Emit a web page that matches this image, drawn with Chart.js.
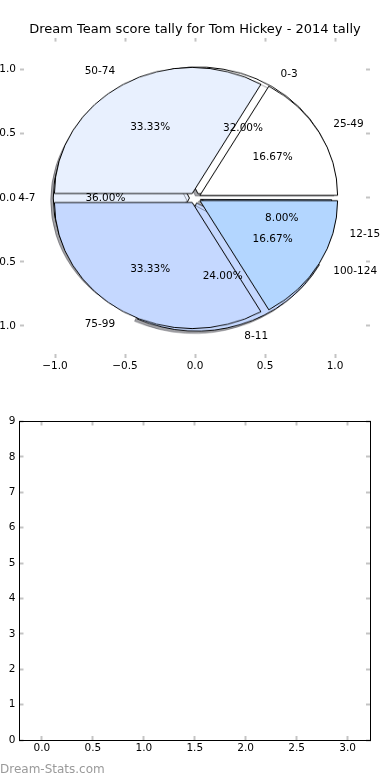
<!DOCTYPE html>
<html>
<head>
<meta charset="utf-8">
<script src="https://cdn.jsdelivr.net/npm/chart.js@4.4.1/dist/chart.umd.min.js"></script>
<style>
  body { margin: 0; background: #fff; }
  #wrap { position: relative; width: 390px; height: 780px; overflow: hidden; }
  canvas { position: absolute; }
  #pieBase, #pieTop { left: 35px; top: 37.8px; transform: scaleY(0.9154); }
  #axesTop { left: 0; top: 0; }
  #axesBottom { left: 0; top: 390px; }
  #mark { position: absolute; left: 0; top: 762px; font: 12px "DejaVu Sans"; line-height: 15px; color: #9a9a9a; }
</style>
</head>
<body>
<div id="wrap">
  <canvas id="pieBase" width="320" height="320"></canvas>
  <canvas id="pieTop" width="320" height="320"></canvas>
  <canvas id="axesTop" width="390" height="390"></canvas>
  <canvas id="axesBottom" width="390" height="390"></canvas>
  <div id="mark">Dream-Stats.com</div>
</div>
<script>
var chartTitle = 'Dream Team score tally for Tom Hickey - 2014 tally';

// first pie: tally ranges
var tallyLabels = ['0-3', '4-7', '8-11', '12-15'];
var tallyPcts = [32, 36, 24, 8];

// second pie: score ranges
var scoreLabels = ['25-49', '50-74', '75-99', '100-124'];
var scorePcts = [16.67, 33.33, 33.33, 16.67];

var sliceColors = ['#ffffff', '#e8f0fe', '#c5d8ff', '#b3d6ff'];
var explode = 0.04;

var pieTicks = [-1, -0.5, 0, 0.5, 1];
var barTicksX = [0, 0.5, 1, 1.5, 2, 2.5, 3];
var barTicksY = [0, 1, 2, 3, 4, 5, 6, 7, 8, 9];

var R = 140; // px for 1.0 on the x axis of the pie axes
var tickFont = { family: 'DejaVu Sans', size: 10.5 };

// chart.js moves an arc by offset/4 and also grows its radius, undo the growth
var explodeFix = {
    id: 'explodeFix',
    afterDatasetsUpdate: function(chart){
        chart.getDatasetMeta(0).data.forEach(function(arc){
            var fix = 1 - Math.sin(Math.min(Math.PI, arc.circumference));
            arc.outerRadius = R - arc.options.offset * fix;
        });
    }
};

var pieShadow = {
    id: 'pieShadow',
    beforeDatasetsDraw: function(chart){
        var ctx = chart.ctx;
        ctx.save();
        ctx.shadowColor = 'rgba(50,50,60,0.45)';
        ctx.shadowOffsetX = -0.018 * R;
        ctx.shadowOffsetY = 0.018 * R;
    },
    afterDatasetsDraw: function(chart){
        chart.ctx.restore();
    }
};

function makePie(id, labels, values, withShadow){
    var plugins = [explodeFix];
    if(withShadow){
        plugins.push(pieShadow);
    }
    // reversed + rotation 90 so slices run counter clockwise from 3 o'clock
    return new Chart(document.getElementById(id), {
        type: 'pie',
        data: {
            labels: labels.slice().reverse(),
            datasets: [{
                data: values.slice().reverse(),
                backgroundColor: sliceColors.slice().reverse(),
                borderColor: '#000',
                borderWidth: 1,
                offset: explode * R * 4,
                radius: R
            }]
        },
        options: {
            responsive: false,
            animation: false,
            events: [],
            rotation: 90,
            layout: { padding: 0 },
            plugins: { legend: { display: false }, tooltip: { enabled: false } }
        },
        plugins: plugins
    });
}

makePie('pieBase', tallyLabels, tallyPcts, true);
makePie('pieTop', scoreLabels, scorePcts, false);

function minusText(v, digits){
    return (v < 0 ? '\u2212' : '') + Math.abs(v).toFixed(digits);
}

// size = px the axis box takes outside the plot area (labels are clipped to it)
function tickAxis(position, min, max, list, digits, size, labels, border){
    var horizontal = (position === 'top' || position === 'bottom');
    return {
        type: 'linear',
        position: position,
        min: min,
        max: max,
        afterBuildTicks: function(scale){
            scale.ticks = list.map(function(v){ return { value: v }; });
        },
        afterFit: function(scale){
            if(horizontal){ scale.height = size; } else { scale.width = size; }
        },
        ticks: {
            display: labels,
            autoSkip: false,
            maxRotation: 0,
            font: tickFont,
            color: '#000',
            padding: horizontal ? 6 : 8,
            callback: function(v){ return minusText(v, digits); }
        },
        grid: {
            drawOnChartArea: false,
            drawTicks: true,
            tickLength: -4,
            tickColor: '#c4c4c4',
            tickWidth: 2
        },
        border: { display: border, color: '#000', width: 1 }
    };
}

var pieLabels = {
    id: 'pieLabels',
    afterDraw: function(chart){
        var ctx = chart.ctx;
        var xs = chart.scales.x;
        var ys = chart.scales.y;
        ctx.save();
        ctx.font = '10.5px "DejaVu Sans"';
        ctx.fillStyle = '#000';
        ctx.textBaseline = 'middle';
        [[tallyLabels, tallyPcts], [scoreLabels, scorePcts]].forEach(function(pie){
            var total = pie[1].reduce(function(a, b){ return a + b; }, 0);
            var acc = 0;
            pie[1].forEach(function(v, i){
                var mid = (acc + v / 2) / total * 2 * Math.PI;
                acc += v;
                var c = Math.cos(mid), s = Math.sin(mid);
                ctx.textAlign = c > 0 ? 'left' : 'right';
                ctx.fillText(pie[0][i], xs.getPixelForValue((1.1 + explode) * c), ys.getPixelForValue((1.1 + explode) * s));
                ctx.textAlign = 'center';
                ctx.fillText(v.toFixed(2) + '%', xs.getPixelForValue((0.6 + explode) * c), ys.getPixelForValue((0.6 + explode) * s));
            });
        });
        ctx.restore();
    }
};

new Chart(document.getElementById('axesTop'), {
    type: 'scatter',
    data: { datasets: [] },
    options: {
        responsive: false,
        animation: false,
        events: [],
        layout: { padding: 0 },
        plugins: {
            legend: { display: false },
            tooltip: { enabled: false },
            title: {
                display: true,
                text: chartTitle,
                color: '#000',
                font: { family: 'DejaVu Sans', size: 13, weight: 'normal', lineHeight: 1.2 },
                padding: { top: 22, bottom: 0 }
            }
        },
        scales: {
            x: tickAxis('bottom', -1.25, 1.25, pieTicks, 1, 32, true, false),
            x2: tickAxis('top', -1.25, 1.25, pieTicks, 1, 0, false, false),
            y: tickAxis('left', -1.25, 1.25, pieTicks, 1, 20, true, false),
            y2: tickAxis('right', -1.25, 1.25, pieTicks, 1, 20, false, false)
        }
    },
    plugins: [pieLabels]
});

new Chart(document.getElementById('axesBottom'), {
    type: 'scatter',
    data: { datasets: [] },
    options: {
        responsive: false,
        animation: false,
        events: [],
        layout: { padding: { top: 31.5 } },
        plugins: { legend: { display: false }, tooltip: { enabled: false } },
        scales: {
            x: tickAxis('bottom', -0.22, 3.22, barTicksX, 1, 40, true, true),
            x2: tickAxis('top', -0.22, 3.22, barTicksX, 1, 0, false, true),
            y: tickAxis('left', 0, 9, barTicksY, 0, 19.5, true, true),
            y2: tickAxis('right', 0, 9, barTicksY, 0, 20, false, true)
        }
    }
});
</script>
</body>
</html>
